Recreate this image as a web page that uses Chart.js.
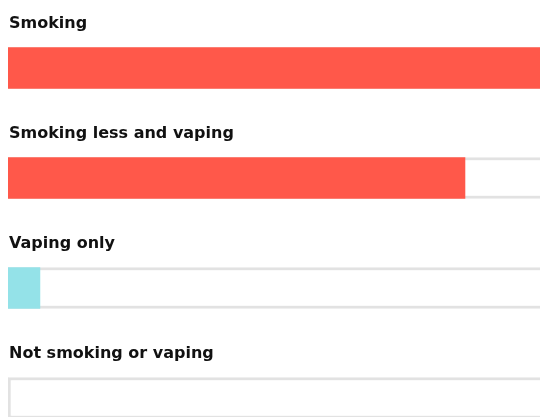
<!DOCTYPE html>
<html>
<head>
<meta charset="utf-8">
<script src="https://cdn.jsdelivr.net/npm/chart.js@4.4.1/dist/chart.umd.min.js"></script>
<style>
  html, body { margin: 0; padding: 0; background: #fff; overflow: hidden; }
  #wrap { width: 540px; height: 417px; overflow: hidden; position: relative; }
  #box { width: 568px; height: 453px; position: absolute; left: 0; top: 0; }
</style>
</head>
<body>
<div id="wrap"><div id="box"><canvas id="chart"></canvas></div></div>
<script>
// categories and values (share of the smoking level, %)
const categories = ['Smoking', 'Smoking less and vaping', 'Vaping only', 'Not smoking or vaping'];
const values = [100, 81.6, 5.7, 0];
const barColors = ['#ff584a', '#ff584a', '#94e2e8', '#e2e2e2'];
const trackValues = [100, 100, 100, 100];

// draw each category name above its bar
const labelsAbove = {
    id: 'labelsAbove',
    afterDatasetsDraw(chart) {
        const {ctx} = chart;
        const meta = chart.getDatasetMeta(1);
        ctx.save();
        ctx.font = 'bold 16px "DejaVu Sans", sans-serif';
        ctx.fillStyle = '#111';
        ctx.textAlign = 'left';
        ctx.textBaseline = 'alphabetic';
        categories.forEach((name, i) => {
            const bar = meta.data[i];
            const top = bar.y - bar.height / 2;
            ctx.fillText(name, chart.chartArea.left + 1, top - 20);
        });
        ctx.restore();
    }
};

const config = {
    type: 'bar',
    data: {
        labels: categories,
        datasets: [
            {
                // value bars, on top
                data: values,
                backgroundColor: barColors,
                borderWidth: 0,
                barThickness: 41,
                grouped: false,
                order: 1,
            },
            {
                // grey outlined track behind
                data: trackValues,
                backgroundColor: '#fff',
                borderColor: '#e2e2e2',
                borderWidth: 3,
                borderSkipped: false,
                barThickness: 41,
                grouped: false,
                order: 2,
            }
        ]
    },
    options: {
        indexAxis: 'y',
        responsive: true,
        maintainAspectRatio: false,
        animation: false,
        layout: { padding: { left: 8, top: 13, right: 0, bottom: 0 } },
        scales: {
            x: { display: false, min: 0, max: 100 },
            y: { display: false }
        },
        plugins: {
            legend: { display: false },
            tooltip: { enabled: false }
        }
    },
    plugins: [labelsAbove]
};

new Chart(document.getElementById('chart'), config);
</script>
</body>
</html>
